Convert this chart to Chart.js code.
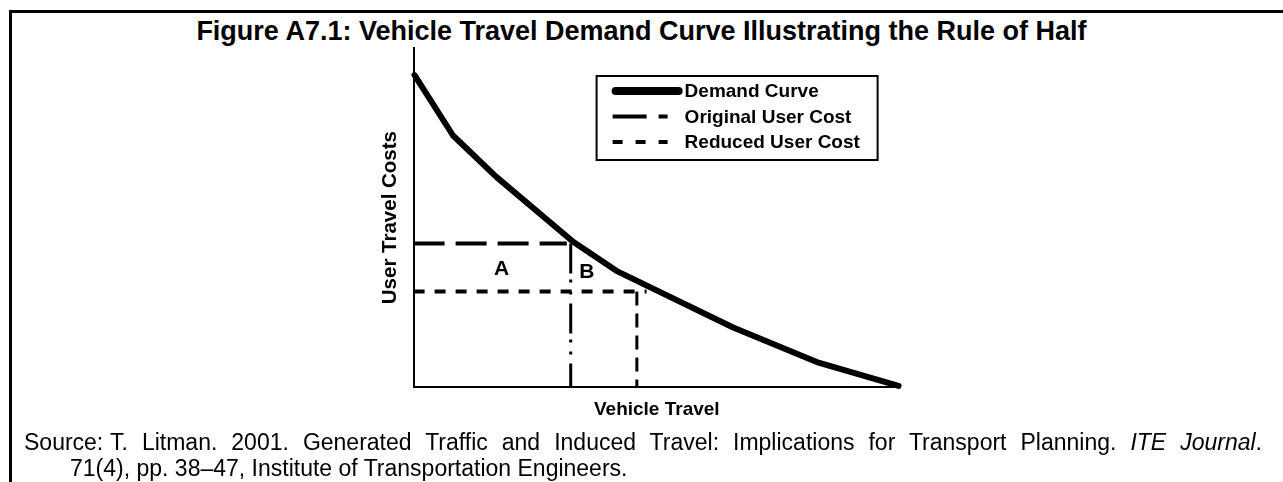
<!DOCTYPE html>
<html>
<head>
<meta charset="utf-8">
<title>Vehicle Travel Demand Curve</title>
<script src="https://cdn.jsdelivr.net/npm/chart.js@4.4.0/dist/chart.umd.min.js"></script>
<style>
    html, body { margin: 0; padding: 0; background: #fff; }
    body {
        width: 1283px; height: 482px; position: relative; overflow: hidden;
        font-family: Arial, 'Liberation Sans', sans-serif; color: #000;
    }
    #frame {
        position: absolute; left: 9px; top: 10px; right: -10px; bottom: -10px;
        border-top: 3px solid #000; border-left: 3px solid #000;
    }
    #title {
        position: absolute; left: 0; top: 15px; width: 1283px;
        text-align: center; font-weight: bold; font-size: 27px; line-height: 32px;
    }
    #chart { position: absolute; left: 0; top: 0; }
    #source {
        position: absolute; left: 24px; top: 429px; width: 1238px;
        font-size: 23px; line-height: 26px; white-space: nowrap;
    }
    #source .first { text-align: justify; text-align-last: justify; white-space: normal; }
    #source .lbl { display: inline-block; width: 86px; }
    #source .cont { padding-left: 46px; }
</style>
</head>
<body>
<div id="frame"></div>
<div id="title">Figure A7.1: Vehicle Travel Demand Curve Illustrating the Rule of Half</div>
<canvas id="chart" width="1283" height="482"></canvas>
<div id="source">
    <div class="first"><span class="lbl">Source:</span>T. Litman. 2001. Generated Traffic and Induced Travel: Implications for Transport Planning. <i>ITE Journal</i>.</div>
    <div class="cont">71(4), pp. 38–47, Institute of Transportation Engineers.</div>
</div>

<script>
// ==================== DATA ====================
const demandX = [0.2, 8.1, 17.0, 32.8, 41.7, 65.7, 82.9, 99.7];
const demandY = [92.0, 74.2, 62.0, 42.9, 34.3, 17.6, 7.4, 0.4];

const originalCostX = [0, 31.5];
const originalCostY = [42.4, 42.4];
const originalTravelX = [32.3, 32.3];
const originalTravelY = [42.4, 0];

const reducedCostX = [0, 47.9];
const reducedCostY = [28.2, 28.2];
const reducedTravelX = [45.9, 45.9];
const reducedTravelY = [28.2, 0];

const areaLabels = ['A', 'B'];
const areaLabelX = [18.1, 35.6];
const areaLabelY = [34.8, 33.8];

const axisMin = 0;
const axisMax = 100;

const legendLabels = ['Demand Curve', 'Original User Cost', 'Reduced User Cost'];

function toPoints(xs, ys) {
    return xs.map((x, i) => ({ x: x, y: ys[i] }));
}

const FONT = "Arial, 'Liberation Sans', sans-serif";

// ==================== PLUGINS ====================
// draws the A / B area labels
const areaLabelPlugin = {
    id: 'areaLabels',
    afterDatasetsDraw(chart) {
        const ctx = chart.ctx;
        const xs = chart.scales.x;
        const ys = chart.scales.y;
        ctx.save();
        ctx.font = 'bold 21px ' + FONT;
        ctx.fillStyle = '#000';
        ctx.textAlign = 'center';
        ctx.textBaseline = 'middle';
        areaLabels.forEach((t, i) => {
            ctx.fillText(t, xs.getPixelForValue(areaLabelX[i]), ys.getPixelForValue(areaLabelY[i]));
        });
        ctx.restore();
    }
};

// boxed legend in the upper right of the plot
const boxLegendPlugin = {
    id: 'boxLegend',
    afterDraw(chart) {
        const ctx = chart.ctx;
        const area = chart.chartArea;
        const left = area.left + 183;
        const top = area.top + 28;
        const w = 281, h = 84;
        ctx.save();
        ctx.strokeStyle = '#000';
        ctx.lineWidth = 2;
        ctx.setLineDash([]);
        ctx.strokeRect(left, top, w, h);

        ctx.font = 'bold 19px ' + FONT;
        ctx.fillStyle = '#000';
        ctx.textBaseline = 'middle';
        legendLabels.forEach((lbl, i) => {
            const ds = chart.data.datasets.find(d => d.label === lbl);
            const y = top + 15 + i * 25.5;
            ctx.beginPath();
            if (i === 0) {
                ctx.lineWidth = 8;
                ctx.lineCap = 'round';
                ctx.setLineDash([]);
                ctx.moveTo(left + 19, y);
                ctx.lineTo(left + 82, y);
            } else {
                ctx.lineWidth = ds.borderWidth;
                ctx.lineCap = 'butt';
                ctx.setLineDash(ds.legendDash);
                ctx.moveTo(left + 16, y);
                ctx.lineTo(left + 71, y);
            }
            ctx.strokeStyle = ds.borderColor;
            ctx.stroke();
            ctx.setLineDash([]);
            ctx.fillText(lbl, left + 88, y + 1);
        });
        ctx.restore();
    }
};

// ==================== CHART ====================
const ctx = document.getElementById('chart');
new Chart(ctx, {
    type: 'line',
    data: {
        datasets: [
            {
                label: 'Demand Curve',
                data: toPoints(demandX, demandY),
                borderColor: '#000',
                borderWidth: 6,
                borderJoinStyle: 'round',
                borderCapStyle: 'round',
                pointRadius: 0,
                clip: 6
            },
            {
                label: 'Original User Cost',
                data: toPoints(originalCostX, originalCostY),
                borderColor: '#000',
                borderWidth: 4,
                borderDash: [31, 11],
                legendDash: [34, 12],
                pointRadius: 0
            },
            {
                label: 'Original Travel',
                data: toPoints(originalTravelX, originalTravelY),
                borderColor: '#000',
                borderWidth: 3,
                borderDash: [30, 6, 3, 9, 3, 9],
                pointRadius: 0
            },
            {
                label: 'Reduced User Cost',
                data: toPoints(reducedCostX, reducedCostY),
                borderColor: '#000',
                borderWidth: 4,
                borderDash: [11, 10],
                legendDash: [10, 13],
                pointRadius: 0
            },
            {
                label: 'Reduced Travel',
                data: toPoints(reducedTravelX, reducedTravelY),
                borderColor: '#000',
                borderWidth: 3,
                borderDash: [14, 8],
                pointRadius: 0
            }
        ]
    },
    options: {
        responsive: false,
        animation: false,
        layout: { padding: { left: 378, right: 383, top: 48, bottom: 61 } },
        plugins: {
            legend: { display: false },
            tooltip: { enabled: false }
        },
        scales: {
            x: {
                type: 'linear',
                min: axisMin,
                max: axisMax,
                grid: { display: false, drawTicks: false },
                border: { display: true, color: '#000', width: 2 },
                ticks: { display: false },
                title: {
                    display: true,
                    text: 'Vehicle Travel',
                    color: '#000',
                    font: { family: FONT, size: 19, weight: 'bold' },
                    padding: { top: 11, bottom: 0 }
                }
            },
            y: {
                type: 'linear',
                min: axisMin,
                max: axisMax,
                grid: { display: false, drawTicks: false },
                border: { display: true, color: '#000', width: 2 },
                ticks: { display: false },
                title: {
                    display: true,
                    text: 'User Travel Costs',
                    color: '#000',
                    font: { family: FONT, size: 20.5, weight: 'bold' },
                    padding: { top: 0, bottom: 11 }
                }
            }
        }
    },
    plugins: [areaLabelPlugin, boxLegendPlugin]
});
</script>
</body>
</html>
